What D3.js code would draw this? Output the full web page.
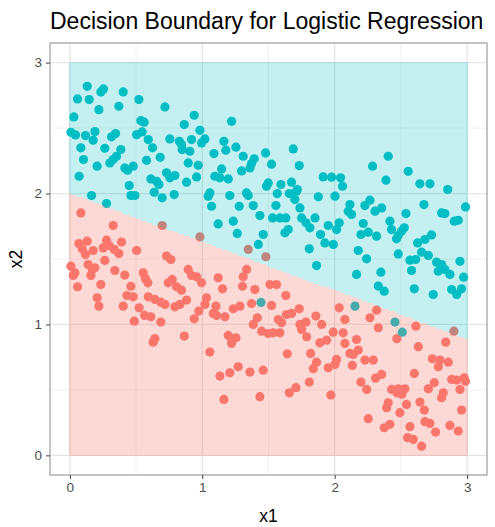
<!DOCTYPE html>
<html>
<head>
<meta charset="utf-8">
<script src="https://cdn.jsdelivr.net/npm/d3@7"></script>
<style>
  body { margin: 0; background: #fff; }
  text { font-family: "Liberation Sans", Arial, sans-serif; }
</style>
</head>
<body>
<script>
// class 0 points (red) as [x1, x2]
var class0 = [
  [0.083,1.852],[0.327,1.756],[0.697,1.756],[0.982,1.669],[0.068,1.618],[0.131,1.636],[0.093,1.578],[0.118,1.534],
  [0.176,1.565],[0.277,1.644],[0.252,1.585],[0.295,1.603],[0.335,1.573],[0.370,1.542],[0.390,1.629],[0.504,1.565],
  [0.730,1.522],[0.763,1.496],[0.008,1.445],[0.038,1.394],[0.025,1.374],[0.138,1.458],[0.169,1.420],[0.189,1.433],
  [0.159,1.374],[0.264,1.489],[0.340,1.412],[0.415,1.377],[0.554,1.394],[0.571,1.349],[0.589,1.318],[0.058,1.288],
  [0.234,1.305],[0.461,1.292],[0.773,1.344],[0.743,1.318],[0.806,1.288],[0.843,1.262],[0.894,1.420],[0.919,1.374],
  [0.957,1.364],[0.994,1.318],[0.431,1.221],[0.478,1.211],[0.206,1.204],[0.219,1.140],[0.592,1.211],[0.642,1.191],
  [0.687,1.170],[0.718,1.153],[0.881,1.186],[0.831,1.153],[0.793,1.135],[0.403,1.140],[0.523,1.127],[0.564,1.069],
  [0.612,1.059],[0.486,1.025],[0.687,1.018],[0.974,1.102],[0.939,1.043],
  [0.629,0.865],[0.642,0.891],[0.864,0.911],
  [1.347,1.573],[1.480,1.517],[1.335,1.420],[1.309,1.364],[1.304,1.292],[1.120,1.356],[1.153,1.272],[1.032,1.204],
  [1.020,1.153],[1.397,1.267],[1.511,1.305],[1.561,1.305],[1.631,1.221],[1.523,1.145],[1.372,1.160],[1.103,1.140],
  [1.083,1.084],[1.108,1.069],[1.234,1.120],[1.284,1.140],[1.171,1.059],[1.416,1.051],[1.636,1.076],[1.674,1.084],
  [1.732,1.120],[1.574,1.038],[1.599,1.013],[1.385,1.000],[1.737,1.000],[1.783,1.018],[1.858,1.064],[1.901,1.000],
  [2.034,1.127],[2.077,1.038],
  [2.316,1.109],[2.266,1.051],[2.329,0.975],[2.613,0.987],[2.900,0.949],
  [1.196,0.916],[1.221,0.891],[1.254,0.898],[1.221,0.855],[1.448,0.949],[1.498,0.931],[1.536,0.936],[1.586,0.936],
  [1.750,0.962],[1.788,0.906],[1.888,0.860],[1.939,0.880],[1.989,0.941],[2.064,0.936],[1.057,0.789],[1.133,0.606],
  [1.208,0.631],[1.271,0.677],[1.360,0.636],[1.460,0.651],[1.642,0.776],[1.818,0.779],[1.863,0.712],[1.838,0.662],
  [1.808,0.560],[1.657,0.478],[1.707,0.517],[1.163,0.427],[1.435,0.448],[1.971,0.461],[1.951,0.669],[2.002,0.695],
  [2.014,0.733],[2.077,0.855],
  [2.469,0.891],[2.165,0.885],[2.178,0.804],[2.115,0.779],[2.140,0.771],[2.228,0.728],[2.291,0.728],[2.133,0.687],
  [2.631,0.830],[2.838,0.865],[2.737,0.738],[2.795,0.728],[2.858,0.712],[2.782,0.677],[2.601,0.626],[2.309,0.590],
  [2.354,0.618],[2.198,0.560],[2.241,0.504],[2.430,0.504],[2.469,0.478],[2.507,0.466],[2.530,0.509],[2.480,0.509],
  [2.707,0.509],[2.752,0.555],[2.883,0.580],[2.921,0.575],[2.978,0.593],[2.988,0.567],[2.946,0.504],[2.820,0.478],
  [2.807,0.440],[2.404,0.402],[2.392,0.364],[2.542,0.389],[2.644,0.407],[2.677,0.346],[2.492,0.326],[2.253,0.280],
  [2.958,0.346],[2.681,0.257],[2.719,0.244],[2.762,0.178],[2.870,0.229],[2.933,0.186],[2.374,0.211],[2.417,0.237],
  [2.568,0.219],[2.550,0.135],[2.593,0.122],[2.656,0.070]
];

// class 1 points (teal)
var class1 = [
  [0.131,2.819],[0.058,2.723],[0.146,2.718],[0.234,2.776],[0.254,2.799],[0.403,2.776],[0.219,2.641],[0.370,2.667],
  [0.521,2.718],[0.718,2.662],[0.030,2.585],[0.536,2.557],[0.561,2.545],[0.939,2.598],[0.864,2.527],[0.008,2.468],
  [0.043,2.448],[0.118,2.443],[0.189,2.473],[0.176,2.407],[0.315,2.433],[0.345,2.458],[0.504,2.450],[0.546,2.471],
  [0.592,2.412],[0.755,2.417],[0.826,2.399],[0.843,2.374],[0.919,2.412],[0.982,2.483],[0.994,2.387],[0.083,2.349],
  [0.264,2.346],[0.385,2.336],[0.624,2.349],[0.848,2.336],[0.906,2.323],[0.103,2.260],[0.302,2.234],[0.327,2.260],
  [0.352,2.285],[0.579,2.254],[0.682,2.277],[0.894,2.234],[0.969,2.216],[0.206,2.209],[0.415,2.196],[0.436,2.178],
  [0.478,2.209],[0.070,2.132],[0.730,2.158],[0.612,2.112],[0.655,2.094],[0.672,2.069],[0.755,2.120],[0.793,2.137],
  [0.881,2.087],[0.957,2.127],[0.448,2.061],
  [1.221,2.552],[1.020,2.417],[1.163,2.399],[1.178,2.331],[1.254,2.354],[1.088,2.305],[1.309,2.285],[1.392,2.265],
  [1.372,2.229],[1.478,2.310],[1.687,2.341],[1.523,2.224],[1.732,2.214],[1.146,2.188],[1.297,2.173],[1.360,2.196],
  [1.095,2.132],[1.133,2.120],[1.196,2.112],[1.498,2.081],[1.485,2.056],[1.594,2.069],[1.674,2.087],[1.717,2.031],
  [1.913,2.127],[1.976,2.125],[2.044,2.120],[2.059,2.056],
  [2.404,2.285],[2.286,2.209],[2.555,2.170],[2.387,2.102],[2.643,2.074],[2.719,2.074],[2.853,2.031],
  [0.164,1.985],[0.277,1.924],[0.461,1.985],[0.491,1.985],[0.637,2.010],[0.697,1.967],[0.788,1.992],
  [1.057,2.005],[1.045,1.980],[1.208,1.985],[1.334,2.005],[1.347,1.985],[1.566,2.000],[1.657,2.000],[1.712,2.018],
  [1.876,1.975],[2.002,1.980],[1.070,1.903],[1.279,1.903],[1.385,1.908],[1.556,1.908],[1.699,1.954],[1.737,1.890],
  [1.435,1.832],[1.531,1.814],[1.586,1.814],[1.631,1.814],[1.750,1.814],[1.783,1.776],[1.813,1.738],[1.851,1.814],
  [1.120,1.768],[1.234,1.789],[1.264,1.695],[1.460,1.687],[1.624,1.700],[1.649,1.725],[1.893,1.687],[1.951,1.756],
  [2.014,1.725],[2.034,1.776],[1.926,1.623],[1.989,1.611],[1.423,1.611],[1.808,1.578],[1.863,1.450],[1.443,1.168],
  [2.115,1.916],[2.102,1.865],[2.127,1.840],[2.228,1.908],[2.266,1.949],[2.304,1.865],[2.354,1.890],[2.538,1.847],
  [2.674,1.916],[2.807,1.852],[2.832,1.847],[2.903,1.789],[2.933,1.796],[2.988,1.898],[2.215,1.771],[2.417,1.789],
  [2.429,1.725],[2.505,1.713],[2.525,1.738],[2.198,1.687],[2.253,1.705],[2.316,1.674],[2.467,1.654],[2.480,1.679],
  [2.626,1.623],[2.681,1.649],[2.731,1.684],[2.178,1.565],[2.241,1.501],[2.480,1.539],[2.656,1.552],[2.707,1.527],
  [2.568,1.491],[2.611,1.496],[2.769,1.476],[2.807,1.458],[2.782,1.407],[2.832,1.420],[2.870,1.382],[2.946,1.483],
  [2.973,1.361],[2.580,1.412],[2.165,1.382],[2.349,1.399],[2.329,1.293],[2.374,1.254],[2.601,1.272],[2.744,1.229],
  [2.883,1.267],[2.921,1.229],[2.958,1.272],[2.153,1.140],[2.455,1.018],[2.510,0.941]
];

// fitted boundary x2 = intercept + slope * x1, evaluated on a grid
var boundaryIntercept = 2.0;
var boundarySlope = -0.37;
var gridStep = 0.015;
var gridMax = 3;

var majorTicks = [0, 1, 2, 3];
var minorTicks = [0.5, 1.5, 2.5];

var width = 495;
var height = 527;
var margin = { top: 43, right: 8, bottom: 52, left: 50 };

var colRed = "#F8766D";
var colTeal = "#00BFC4";

var svg = d3.select("body").append("svg")
    .attr("width", width)
    .attr("height", height);

var x = d3.scaleLinear()
    .domain([-0.15, 3.15])
    .range([margin.left, width - margin.right]);

var y = d3.scaleLinear()
    .domain([-0.15, 3.15])
    .range([height - margin.bottom, margin.top]);

// grid lines
var grid = svg.append("g");
grid.selectAll(".minx").data(minorTicks).enter().append("line")
    .attr("x1", d => x(d)).attr("x2", d => x(d))
    .attr("y1", margin.top).attr("y2", height - margin.bottom)
    .attr("stroke", "#ebebeb").attr("stroke-width", 0.7);
grid.selectAll(".miny").data(minorTicks).enter().append("line")
    .attr("y1", d => y(d)).attr("y2", d => y(d))
    .attr("x1", margin.left).attr("x2", width - margin.right)
    .attr("stroke", "#ebebeb").attr("stroke-width", 0.7);
grid.selectAll(".majx").data(majorTicks).enter().append("line")
    .attr("x1", d => x(d)).attr("x2", d => x(d))
    .attr("y1", margin.top).attr("y2", height - margin.bottom)
    .attr("stroke", "#e6e6e6").attr("stroke-width", 1.3);
grid.selectAll(".majy").data(majorTicks).enter().append("line")
    .attr("y1", d => y(d)).attr("y2", d => y(d))
    .attr("x1", margin.left).attr("x2", width - margin.right)
    .attr("stroke", "#e6e6e6").attr("stroke-width", 1.3);

// points (drawn under the translucent tiles, like the original)
var pts = svg.append("g");
pts.selectAll(".p0").data(class0).enter().append("circle")
    .attr("cx", d => x(d[0]))
    .attr("cy", d => y(d[1]))
    .attr("r", 4.6)
    .attr("fill", colRed);
pts.selectAll(".p1").data(class1).enter().append("circle")
    .attr("cx", d => x(d[0]))
    .attr("cy", d => y(d[1]))
    .attr("r", 4.6)
    .attr("fill", colTeal);

// staircase of grid cells: top of the red cells in each column
var cols = d3.range(0, gridMax + gridStep / 2, gridStep);
var h = gridStep / 2;
var tops = cols.map(function (cx) {
    var lim = boundaryIntercept + boundarySlope * cx;
    var k = Math.floor(lim / gridStep - 1e-9);
    return Math.min(k * gridStep, gridMax) + h;
});

var redPath = d3.path();
redPath.moveTo(x(-h), y(-h));
cols.forEach(function (cx, i) {
    redPath.lineTo(x(cx - h), y(tops[i]));
    redPath.lineTo(x(cx + h), y(tops[i]));
});
redPath.lineTo(x(gridMax + h), y(-h));
redPath.closePath();

var tealPath = d3.path();
tealPath.moveTo(x(-h), y(gridMax + h));
cols.forEach(function (cx, i) {
    tealPath.lineTo(x(cx - h), y(tops[i]));
    tealPath.lineTo(x(cx + h), y(tops[i]));
});
tealPath.lineTo(x(gridMax + h), y(gridMax + h));
tealPath.closePath();

svg.append("path").attr("d", redPath.toString())
    .attr("fill", colRed).attr("fill-opacity", 0.28)
    .attr("shape-rendering", "crispEdges");
svg.append("path").attr("d", tealPath.toString())
    .attr("fill", colTeal).attr("fill-opacity", 0.23)
    .attr("shape-rendering", "crispEdges");

// panel border
svg.append("rect")
    .attr("x", margin.left).attr("y", margin.top)
    .attr("width", width - margin.left - margin.right)
    .attr("height", height - margin.top - margin.bottom)
    .attr("fill", "none").attr("stroke", "#8a8a8a").attr("stroke-width", 1);

// axes
var xAxis = g => g
    .attr("transform", `translate(0,${height - margin.bottom})`)
    .call(d3.axisBottom(x).tickValues(majorTicks).tickSize(4).tickPadding(3).tickFormat(d3.format("d")))
    .call(g => g.select(".domain").remove());
var yAxis = g => g
    .attr("transform", `translate(${margin.left},0)`)
    .call(d3.axisLeft(y).tickValues(majorTicks).tickSize(4).tickPadding(4).tickFormat(d3.format("d")))
    .call(g => g.select(".domain").remove());

svg.append("g").call(xAxis);
svg.append("g").call(yAxis);
svg.selectAll(".tick line").attr("stroke", "#444");
svg.selectAll(".tick text")
    .attr("fill", "#4d4d4d")
    .style("font-size", "13.5px")
    .style("font-family", "'Liberation Sans', Arial, sans-serif");

// titles
svg.append("text")
    .attr("x", margin.left)
    .attr("y", 29)
    .attr("font-size", "23px")
    .attr("fill", "#000")
    .text("Decision Boundary for Logistic Regression");

svg.append("text")
    .attr("x", (margin.left + width - margin.right) / 2)
    .attr("y", 522)
    .attr("text-anchor", "middle")
    .attr("font-size", "17.5px")
    .text("x1");

svg.append("text")
    .attr("transform", `translate(22,${(margin.top + height - margin.bottom) / 2}) rotate(-90)`)
    .attr("text-anchor", "middle")
    .attr("font-size", "17.5px")
    .text("x2");
</script>
</body>
</html>
